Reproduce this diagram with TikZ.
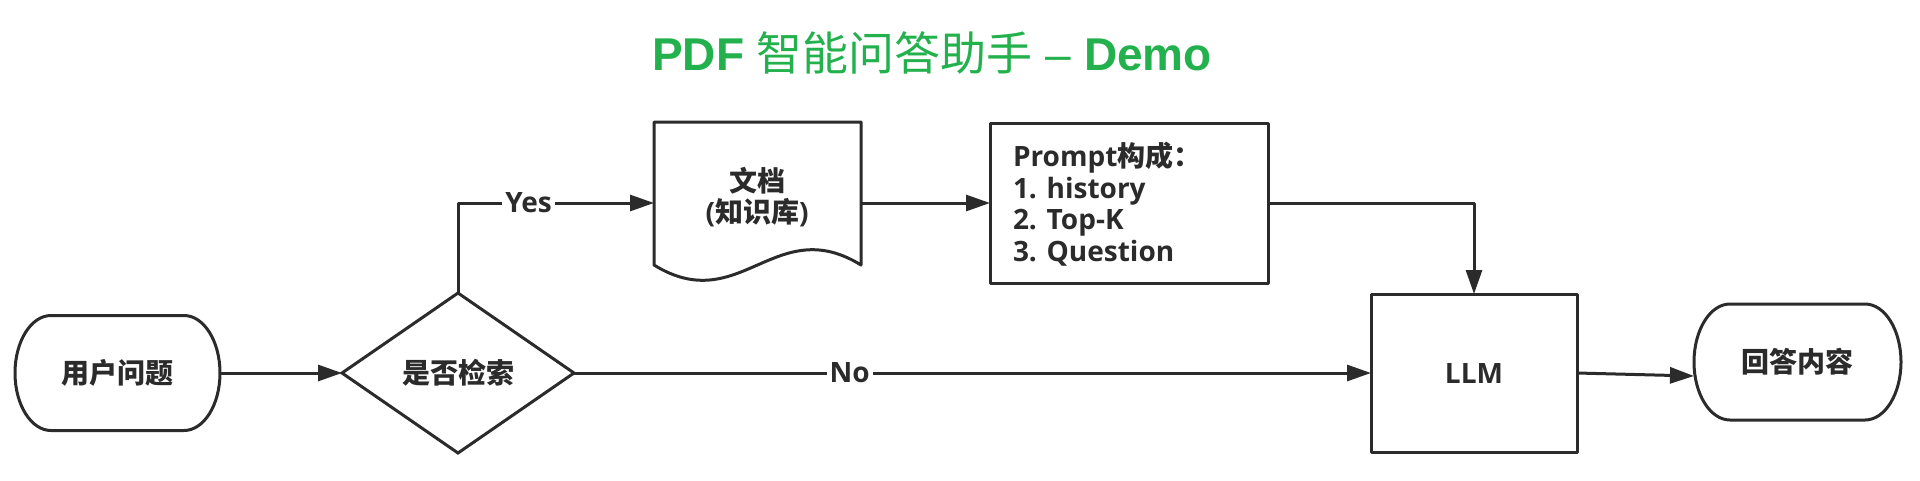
\documentclass[tikz,border=0pt]{standalone}
\usepackage{fontspec}
\setmainfont{Open Sans}
\newfontfamily\cjk{Noto Sans CJK SC}
\newfontfamily\titlefont{Liberation Sans}
\usetikzlibrary{arrows.meta,shapes.geometric,calc}
\definecolor{ink}{HTML}{2B2B2B}
\definecolor{ttl}{HTML}{22B14C}
\newcommand{\zh}[1]{{\cjk #1}}
\newcommand{\termshape}[2]{%
  \draw[line] ([xshift=36pt]#1.north west) -- ([xshift=-36pt]#1.north east)
    arc[start angle=90,end angle=-90,x radius=36pt,y radius=#2pt]
    -- ([xshift=36pt]#1.south west)
    arc[start angle=270,end angle=90,x radius=36pt,y radius=#2pt] -- cycle;}
\begin{document}
\begin{tikzpicture}[x=1pt,y=1pt,
  line/.style={draw=ink, line width=3pt, line join=round},
  arr/.style={line, -{Triangle[length=24pt,width=16pt]}},
  txt/.style={font=\fontsize{28}{31.5}\selectfont\bfseries, text=ink, inner sep=0pt, outer sep=0pt},
  lbl/.style={txt, fill=white, inner xsep=3pt, inner ysep=3pt},
]
\useasboundingbox (0,0) rectangle (1920,-480);

\node[font=\fontsize{46}{50}\selectfont, text=ttl, inner sep=0pt] (title) at (932,-53)
  {\titlefont\bfseries PDF {\cjk\mdseries 智能问答助手} {\mdseries –} Demo};

% user question
\node[txt, minimum width=205pt, minimum height=115pt] (u) at (117.5,-373) {\zh{用户问题}};
\termshape{u}{57.5}

% decision
\node[txt, diamond, draw=ink, line width=3pt, aspect=1.45, minimum width=232pt, minimum height=160pt] (dec) at (458,-373) {\zh{是否检索}};

% document
\node[minimum width=207pt, minimum height=162pt, inner sep=0pt, outer sep=0pt] (doc) at (757.5,-203) {};
\draw[line] (doc.north west) -- (doc.north east) -- ($(doc.south east)+(0,19)$)
  .. controls (775,-212) and (740,-318) .. ($(doc.south west)+(0,19)$) -- cycle;
\node[txt, align=center] (doct) at (757,-197) {\zh{文档}\\(\zh{知识库})};

% prompt
\node[line, minimum width=278pt, minimum height=160pt, outer sep=0pt] (prompt) at (1129,-203) {};
\node[txt, align=left, anchor=west] (promptt) at (1013,-204)
  {Prompt\zh{构成：}\\1. history\\2. Top-K\\3. Question};

% LLM
\node[txt, line, minimum width=206pt, minimum height=158pt] (llm) at (1474,-373) {LLM};

% answer
\node[txt, minimum width=207pt, minimum height=116pt] (ans) at (1797.5,-362) {\zh{回答内容}};
\termshape{ans}{58}

% connectors
\draw[arr] (u.east) -- (dec.west);
\draw[arr] (dec.north) |- node[lbl, pos=0.68] {Yes} (doc.west);
\draw[arr] (doc.east) -- (prompt.west);
\draw[arr] (prompt.east) -| (llm.north);
\draw[arr] (dec.east) -- node[lbl, pos=0.346] {No} (llm.west);
\draw[arr] (llm.east) -- ([yshift=-14pt]ans.west);
\end{tikzpicture}
\end{document}
